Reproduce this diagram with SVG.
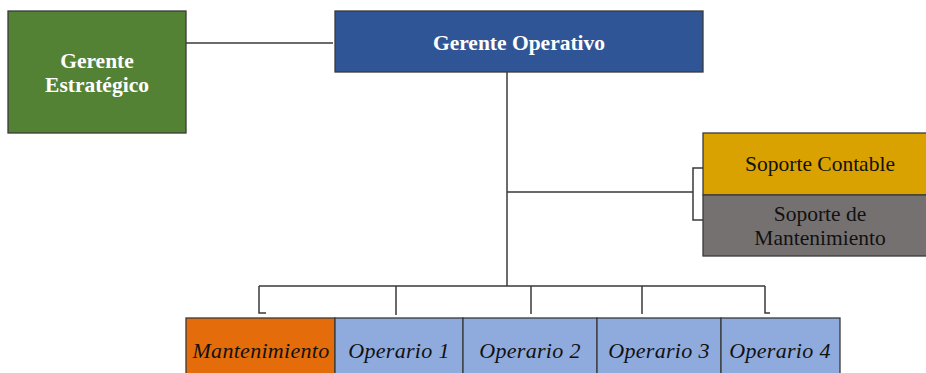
<svg xmlns="http://www.w3.org/2000/svg" width="926" height="373" viewBox="0 0 926 373">
<style>
.box{stroke:#3a3a3a;stroke-width:1.3}
.ln{stroke:#3a3a3a;stroke-width:1.5;fill:none}
.tb{font-family:"Liberation Serif",serif;font-weight:bold;font-size:21.5px;fill:#fff;text-anchor:middle}
.tr{font-family:"Liberation Serif",serif;font-size:21.5px;fill:#111;text-anchor:middle}
.ti{font-family:"Liberation Serif",serif;font-style:italic;font-size:22px;fill:#111;text-anchor:middle;letter-spacing:0.3px}
</style>
<rect width="926" height="373" fill="#fff"/>
<g id="connectors">
<path class="ln" d="M186 43H333"/>
<path class="ln" d="M507 72V286"/>
<path class="ln" d="M507 192H693M703 168H693V220H703"/>
<path class="ln" d="M259 286H765M259 286V313H266M396 286V315M531 286V314M642 286V314M765 286V313H770"/>
</g>
<g id="gerente-estrategico">
<rect class="box" x="8" y="11" width="178" height="122" fill="#548235"/>
<text class="tb" x="97" y="68">Gerente</text>
<text class="tb" x="97" y="92">Estratégico</text>
</g>
<g id="gerente-operativo">
<rect class="box" x="335" y="11" width="368" height="61" fill="#2F5597"/>
<text class="tb" x="519" y="50">Gerente Operativo</text>
</g>
<g id="soporte-contable">
<rect class="box" x="703" y="133" width="225" height="62" fill="#DAA200"/>
<text class="tr" x="820" y="171">Soporte Contable</text>
</g>
<g id="soporte-mantenimiento">
<rect class="box" x="703" y="195" width="225" height="61" fill="#767171"/>
<text class="tr" x="820" y="221">Soporte de</text>
<text class="tr" x="820" y="245">Mantenimiento</text>
</g>
<g id="mantenimiento">
<rect class="box" x="186" y="318" width="149" height="60" fill="#E46C0A"/>
<text class="ti" x="261" y="358">Mantenimiento</text>
</g>
<g id="operario-1">
<rect class="box" x="335" y="318" width="128" height="60" fill="#8FAADC"/>
<text class="ti" x="399" y="358">Operario 1</text>
</g>
<g id="operario-2">
<rect class="box" x="463" y="318" width="134" height="60" fill="#8FAADC"/>
<text class="ti" x="530" y="358">Operario 2</text>
</g>
<g id="operario-3">
<rect class="box" x="597" y="318" width="124" height="60" fill="#8FAADC"/>
<text class="ti" x="659" y="358">Operario 3</text>
</g>
<g id="operario-4">
<rect class="box" x="721" y="318" width="119" height="60" fill="#8FAADC"/>
<text class="ti" x="780" y="358">Operario 4</text>
</g>
</svg>
